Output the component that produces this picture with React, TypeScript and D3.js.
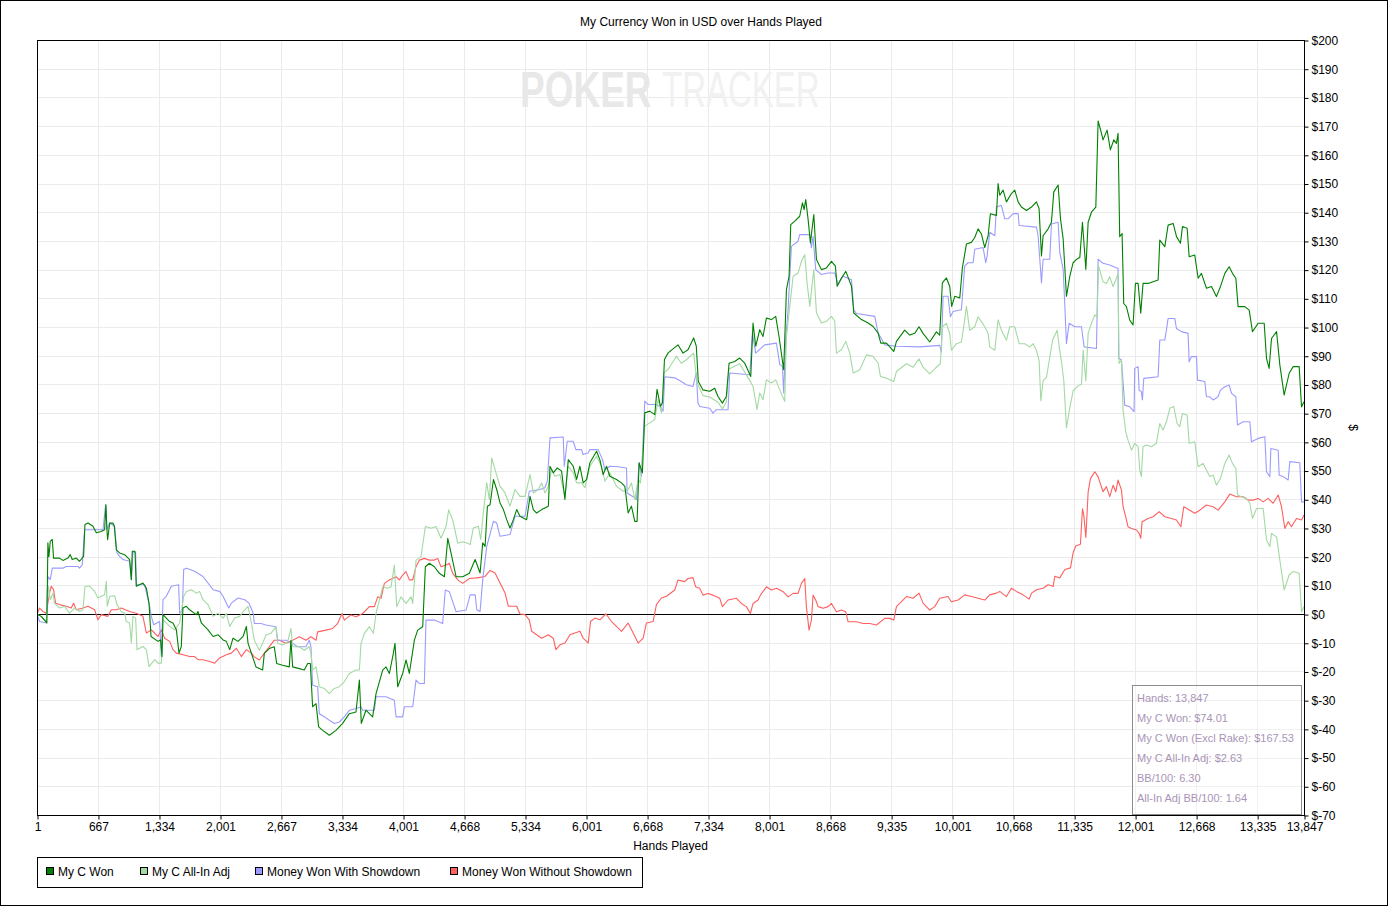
import { useRef, useEffect } from 'react';
import * as d3 from 'd3';

// hands played on the x axis, dollars on the right y axis
const handTicks = [1, 667, 1334, 2001, 2667, 3334, 4001, 4668, 5334, 6001, 6668, 7334, 8001, 8668, 9335, 10001, 10668, 11335, 12001, 12668, 13335, 13847];
const dollarTicks = [-70, -60, -50, -40, -30, -20, -10, 0, 10, 20, 30, 40, 50, 60, 70, 80, 90, 100, 110, 120, 130, 140, 150, 160, 170, 180, 190, 200];

const seriesNames = ['My C Won', 'My C All-In Adj', 'Money Won With Showdown', 'Money Won Without Showdown'];

const statLines = [
    'Hands: 13,847',
    'My C Won: $74.01',
    'My C Won (Excl Rake): $167.53',
    'My C All-In Adj: $2.63',
    'BB/100: 6.30',
    'All-In Adj BB/100: 1.64',
];

// [hand, dollars]
const myCWon: [number, number][] = [
    [1, 0], [47, -0.8], [109, -3.1], [120, 24.8], [131, 20], [146, 25.3], [168, 26], [182, 19.5], [248, 19.5], [284, 18.7], [339, 19.5], [364, 20.7], [386, 19], [430, 19.5], [466, 18.4], [510, 20.1],
    [525, 31.2], [558, 31.7], [612, 30.6], [649, 28.3], [703, 28.8], [740, 29.4], [754, 38.1], [765, 29.4], [773, 25.9], [795, 31.7], [831, 31.7], [846, 30.6], [868, 22.4], [904, 21.3], [959, 20.7], [1013, 19],
    [1032, 12], [1042, 21.9], [1072, 21.9], [1086, 9.7], [1159, 10.8], [1196, 9.1], [1225, 3.8], [1247, -7.8], [1323, -9.5], [1352, -9], [1367, -14.8], [1378, -0.2], [1414, -1.4], [1451, -2.6], [1487, -3.1],
    [1524, -5.5], [1553, -13.6], [1578, -11.3], [1596, 2.1], [1633, 2.7], [1669, 1.5], [1742, -0.2], [1760, 0.9], [1797, -3.1], [1833, -4.3], [1870, -5.5], [1925, -7.8], [1979, -7.2], [2034, -9], [2070, -9.5],
    [2107, -12.4], [2143, -8.4], [2198, -9.5], [2253, -7.8], [2289, -4.3], [2307, -10.1], [2357, -14.9], [2394, -18.4], [2467, -19.5], [2485, -13.7], [2539, -12], [2594, -11.4], [2620, -17.2], [2685, -17.8],
    [2758, -18.4], [2776, -9.1], [2795, -18.4], [2867, -19], [2922, -19.5], [2959, -17.2], [2988, -17.2], [3013, -32.3], [3050, -31.2], [3079, -39.3], [3123, -40.5], [3196, -42.2], [3268, -40.5], [3341, -38.1],
    [3414, -34.7], [3487, -34.1], [3524, -23], [3545, -38.1], [3596, -33.5], [3669, -35.8], [3706, -27.7], [3779, -19.5], [3815, -18.4], [3852, -20.7], [3895, -13.7], [3913, -10.2], [3943, -25.3], [3997, -20.7],
    [4034, -16], [4070, -20.7], [4125, -9.1], [4161, -5.6], [4216, -4.4], [4245, 16.5], [4289, 17.7], [4344, 16.5], [4398, 14.2], [4453, 13], [4490, 26.4], [4526, 21.2], [4581, 13], [4653, 13], [4726, 14.2],
    [4789, 19], [4843, 14.3], [4872, 24.8], [4898, 23.6], [4923, 37.6], [4952, 38.1], [4989, 46.9], [5025, 43.4], [5061, 38.7], [5098, 36.4], [5134, 32.9], [5170, 30], [5207, 32.9], [5243, 36.4], [5279, 34.1],
    [5352, 32.9], [5389, 41], [5425, 36.4], [5461, 35.2], [5516, 36.4], [5589, 37.6], [5607, 51.5], [5643, 49.2], [5687, 50.9], [5734, 49.8], [5770, 39.9], [5807, 53.8], [5861, 51.5], [5898, 46.9], [5934, 51.5],
    [5970, 45.7], [6007, 46.9], [6043, 52.7], [6116, 56.7], [6152, 53.8], [6188, 48.6], [6225, 51.5], [6261, 48], [6334, 46.9], [6388, 45.7], [6425, 44.5], [6443, 39.9], [6461, 35.2], [6497, 37.6], [6534, 32.3],
    [6559, 32.3], [6581, 52.7], [6617, 49.2], [6643, 70.1], [6698, 70.7], [6752, 69.5], [6777, 78.3], [6814, 72.4], [6836, 73.6], [6858, 88.7], [6898, 91], [7006, 93.8], [7061, 90.9], [7115, 92.1], [7177, 96.2],
    [7206, 93.3], [7228, 81], [7279, 78.1], [7352, 77.6], [7407, 78.7], [7443, 75.8], [7491, 73.5], [7534, 75.8], [7564, 87.4], [7626, 88], [7680, 89.2], [7735, 87.4], [7801, 82.8], [7826, 101.4], [7855, 93.3],
    [7899, 99.1], [7935, 96.7], [7972, 103.1], [8027, 102.6], [8074, 103.7], [8110, 96.7], [8161, 85.1], [8191, 113], [8220, 117.7], [8238, 135.7], [8282, 136.9], [8336, 138.6], [8366, 143.3], [8384, 140.9],
    [8402, 144.4], [8428, 137.4], [8453, 129.3], [8490, 139.2], [8519, 123.5], [8573, 120], [8628, 120.6], [8683, 122.9], [8726, 121.2], [8745, 114.2], [8792, 117.1], [8840, 119.4], [8902, 114.2], [8927, 104.9],
    [9011, 102.6], [9084, 101.4], [9138, 100.2], [9193, 97.9], [9222, 94.4], [9284, 94.4], [9364, 91.5], [9393, 95], [9483, 98.9], [9538, 97.2], [9593, 97.8], [9640, 100.1], [9684, 97.8], [9757, 94.8],
    [9830, 98.3], [9866, 97.2], [9895, 115.4], [9939, 117.1], [9975, 114.2], [9997, 107.2], [10030, 110.7], [10085, 110.1], [10114, 120.7], [10158, 128.9], [10212, 129.5], [10249, 131.2], [10285, 134.2],
    [10322, 132.4], [10358, 127.7], [10395, 131.8], [10420, 139.5], [10486, 138.9], [10504, 150], [10522, 145.9], [10559, 147.7], [10595, 143.6], [10650, 146.5], [10686, 147.7], [10723, 143.6], [10759, 141.8],
    [10814, 140.6], [10869, 141.8], [10923, 143.6], [10952, 141.2], [10978, 124.8], [10996, 131.8], [11051, 134.2], [11087, 136.5], [11113, 147.1], [11160, 149.5], [11186, 137.7], [11215, 130.7], [11251, 110.7],
    [11288, 117.7], [11324, 122.4], [11361, 123.6], [11397, 124.2], [11426, 136.5], [11463, 120.1], [11488, 136.5], [11524, 140], [11572, 141.8], [11597, 171.8], [11627, 168.3], [11651, 165.2], [11695, 168.6],
    [11731, 161.7], [11768, 165.2], [11797, 164], [11815, 167.5], [11833, 131.5], [11859, 132.6], [11877, 108.2], [11906, 107.1], [11943, 102.4], [11979, 100.7], [12005, 115.2], [12034, 115.2], [12063, 104.8],
    [12088, 115.2], [12143, 115.2], [12198, 115.8], [12253, 116.4], [12271, 130.3], [12326, 128], [12362, 135.5], [12417, 136.1], [12454, 131.5], [12497, 129.2], [12519, 135], [12570, 134.4], [12592, 124.5],
    [12653, 125.1], [12690, 117], [12726, 118.7], [12781, 113.5], [12836, 114.1], [12890, 110.6], [12934, 114.1], [12982, 118.7], [13029, 121], [13065, 118.7], [13102, 117], [13127, 107.1], [13200, 107.1],
    [13248, 105.9], [13284, 98.4], [13346, 101.3], [13412, 101.3], [13437, 89.1], [13466, 85.6], [13492, 96], [13547, 98.4], [13583, 86.8], [13630, 76.3], [13685, 83.9], [13729, 86.2], [13794, 86.2], [13820, 72.2],
    [13847, 74],
];

const allInAdj: [number, number][] = [
    [1, 0], [47, -0.8], [102, -2.6], [127, 9.7], [146, 5], [175, 7.3], [193, 3.8], [248, 2.1], [303, 2.7], [357, 0.3], [412, 2.1], [466, 0.9], [503, 1.5], [525, 9.7], [576, 9.7], [631, 7.9], [667, 5.6],
    [703, 6.2], [740, 6.7], [758, 11.4], [769, 2.7], [795, 6.2], [849, 6.4], [875, 3.3], [922, 0.9], [959, 0.3], [977, -2.6], [1013, -3.1], [1032, -10.1], [1050, -0.8], [1079, -1.4], [1094, -12.4], [1159, -11.3],
    [1196, -12.4], [1225, -18.3], [1287, -15.9], [1323, -17.1], [1360, -17.1], [1378, -2], [1414, -3.1], [1451, -4.3], [1505, -5.5], [1560, -3.1], [1604, 6.2], [1633, 7.9], [1687, 8.5], [1742, 7.3], [1778, 7.9],
    [1815, 5], [1870, 3.3], [1925, -0.8], [1979, 0.3], [2034, -1.4], [2070, 0.3], [2107, -4.3], [2161, -1.4], [2216, -0.8], [2271, 1.5], [2307, 2.7], [2344, -3.1], [2376, -9.1], [2430, -12.6], [2467, -10.2],
    [2503, -7.3], [2558, -6.7], [2612, -4.4], [2631, -10.2], [2685, -10.8], [2740, -9.7], [2776, -5], [2795, -11.4], [2867, -11.4], [2922, -12.6], [2977, -11.4], [2995, -13.7], [3013, -19.5], [3050, -18.4],
    [3086, -25.3], [3141, -25.9], [3196, -27.7], [3250, -25.9], [3305, -25.3], [3359, -23.6], [3414, -20.7], [3487, -19.5], [3524, -19.5], [3542, -10.2], [3578, -6.7], [3633, -4.4], [3677, -6.7], [3706, 0.2],
    [3742, 4.9], [3779, 9.5], [3834, 9], [3870, 9.5], [3906, 17.1], [3932, 2.6], [3979, 6], [4034, 3.7], [4089, 6], [4107, 3.7], [4143, 18.8], [4198, 20], [4245, 30.5], [4307, 29.9], [4362, 30.5], [4416, 26.4],
    [4471, 30.5], [4500, 36.3], [4544, 32.8], [4599, 24.7], [4653, 25.2], [4708, 24.7], [4734, 24.2], [4770, 30], [4825, 30.6], [4850, 25.9], [4880, 35.8], [4916, 45.7], [4945, 39.9], [4970, 54.4], [5007, 50.3],
    [5061, 44.5], [5116, 42.2], [5170, 37.6], [5225, 43.4], [5279, 41], [5334, 41], [5389, 48.6], [5425, 42.2], [5479, 43.4], [5516, 45.7], [5552, 42.2], [5589, 44.5], [5625, 50.3], [5661, 48], [5716, 48.6],
    [5770, 41], [5807, 51.5], [5861, 49.2], [5898, 45.7], [5952, 45.7], [5989, 44], [6043, 51.5], [6116, 55], [6170, 51.5], [6207, 46.3], [6261, 49.2], [6334, 44.5], [6407, 42.8], [6461, 43.4], [6497, 45.7],
    [6534, 39.9], [6570, 46.9], [6596, 45.7], [6643, 65.5], [6698, 66.6], [6752, 67.8], [6789, 74.8], [6825, 70.1], [6854, 84.1], [6898, 85.2], [6988, 89.8], [7042, 87.4], [7097, 88.6], [7177, 90.9], [7213, 80.8],
    [7279, 76.1], [7352, 75.6], [7443, 73.8], [7491, 71.5], [7534, 73.8], [7564, 85.4], [7680, 87.2], [7801, 80.8], [7826, 79.3], [7870, 71.2], [7899, 77], [7935, 74.7], [7972, 81.6], [8027, 80.5], [8074, 81.6],
    [8118, 78.1], [8172, 74.1], [8191, 96.7], [8227, 107.2], [8264, 117.7], [8318, 118.8], [8355, 122.9], [8391, 125.2], [8417, 115.3], [8446, 107.2], [8490, 120], [8519, 104.9], [8573, 101.4], [8628, 102],
    [8683, 103.7], [8719, 102], [8737, 90.9], [8792, 92.1], [8840, 95], [8883, 90.9], [8920, 84], [8993, 85.1], [9065, 90.3], [9138, 89.8], [9193, 87.4], [9218, 82.8], [9284, 82.2], [9364, 81], [9393, 84.5],
    [9502, 87.2], [9575, 86], [9640, 88.9], [9684, 86], [9757, 83.7], [9830, 86], [9873, 87.2], [9895, 100.1], [9939, 101.3], [9975, 97.8], [9994, 91.9], [10048, 94.2], [10103, 94.8], [10139, 102.5], [10158, 107.2],
    [10194, 98.9], [10249, 100.1], [10285, 103.6], [10322, 101.9], [10358, 100.1], [10395, 97.8], [10413, 93.1], [10468, 91.9], [10504, 102.5], [10540, 98.9], [10595, 95.4], [10631, 100.1], [10686, 100.1],
    [10734, 94.2], [10796, 94.2], [10850, 93.1], [10887, 94.2], [10923, 91.9], [10952, 88.4], [10971, 74.3], [10996, 81.3], [11033, 82.5], [11069, 89.5], [11099, 95.4], [11150, 98.9], [11172, 93.1], [11197, 87.8],
    [11222, 81.3], [11251, 64.9], [11288, 71.9], [11324, 77.8], [11379, 79.5], [11415, 80.1], [11433, 91.9], [11463, 81.3], [11488, 97.8], [11524, 101.3], [11561, 104.2], [11586, 103.6], [11601, 121.3],
    [11651, 115.8], [11688, 115.2], [11724, 117.5], [11761, 114.1], [11790, 116.4], [11815, 118.7], [11826, 87.3], [11852, 88.5], [11870, 71.1], [11899, 63.5], [11924, 60.6], [11961, 57.1], [11997, 59.5],
    [12034, 58.3], [12052, 50.2], [12070, 47.9], [12088, 58.3], [12125, 58.9], [12180, 58.3], [12234, 59.5], [12271, 66.4], [12307, 64.1], [12344, 67], [12380, 71.7], [12424, 72.3], [12460, 66.4], [12489, 65.3],
    [12519, 69.9], [12570, 69.3], [12592, 59.5], [12653, 60], [12690, 51.3], [12744, 52.5], [12781, 50.2], [12817, 47.9], [12854, 48.4], [12890, 44.9], [12934, 47.3], [12982, 52.5], [13029, 55.4], [13065, 52.5],
    [13102, 50.8], [13120, 41.5], [13164, 40.9], [13219, 40.3], [13255, 38.6], [13284, 33.3], [13328, 36.8], [13401, 36.8], [13437, 25.8], [13474, 23.5], [13492, 28.1], [13547, 26.9], [13583, 18.8], [13630, 8.4],
    [13685, 13.6], [13729, 14.8], [13794, 14.2], [13820, 0.8], [13847, 2.6],
];

const withShowdown: [number, number][] = [
    [1, 0], [29, -2.6], [102, -3.1], [120, 13.1], [146, 12], [168, 16], [284, 16], [321, 16.6], [448, 16.6], [466, 16], [496, 17.2], [521, 29.4], [722, 29.4], [751, 38.1], [765, 29.4], [795, 31.7], [849, 30.6],
    [875, 21.3], [904, 20.1], [940, 19], [1013, 18.4], [1032, 12], [1050, 21.9], [1079, 21.3], [1086, 10.2], [1177, 10.2], [1232, 2.7], [1250, -0.8], [1276, -3.7], [1341, -2.6], [1360, -14.8], [1378, 5],
    [1414, 6.2], [1469, 9.7], [1549, 10.2], [1560, 0.3], [1589, 1.5], [1604, 15.5], [1633, 16], [1724, 14.9], [1815, 13.1], [1925, 8.5], [1997, 7.9], [2034, 6.2], [2096, 2.1], [2125, 3.8], [2198, 5.6], [2271, 5],
    [2318, 3.8], [2365, 0.2], [2376, -3.3], [2449, -3.3], [2503, -3.8], [2612, -4.4], [2631, -9.1], [2722, -9.1], [2758, -9.7], [2795, -10.2], [2849, -11.4], [2940, -11.4], [2977, -9.1], [2995, -11.4], [3013, -24.8],
    [3068, -25.3], [3086, -34.7], [3141, -35.8], [3196, -37], [3250, -38.1], [3305, -37.6], [3359, -35.8], [3414, -33.5], [3487, -32.9], [3542, -32.3], [3560, -33.5], [3688, -33.5], [3706, -28.8], [3815, -28.8],
    [3906, -30], [3925, -35.8], [3997, -35.8], [4016, -32.3], [4107, -32.3], [4143, -23], [4180, -24.2], [4234, -24.2], [4252, -2.1], [4344, -2.1], [4434, -3.3], [4463, 8.4], [4507, 7.8], [4581, 0.8], [4690, 1.4],
    [4734, 6.7], [4790, 6.7], [4807, 1.5], [4843, 0.9], [4872, 12], [4916, 23.6], [4989, 32.3], [5025, 31.7], [5061, 27.1], [5170, 27.7], [5225, 34.1], [5334, 34.1], [5381, 42.8], [5498, 43.4], [5552, 44],
    [5578, 46.3], [5607, 61.4], [5752, 61.7], [5763, 51.5], [5796, 60.2], [5861, 60.2], [5890, 57.3], [5952, 57.3], [5970, 55.6], [6025, 56.2], [6043, 57.3], [6134, 57.3], [6181, 53.8], [6207, 50.3], [6261, 51.5],
    [6352, 51.3], [6443, 50.9], [6450, 42.2], [6479, 41.6], [6534, 40.5], [6552, 39.9], [6581, 52.7], [6607, 48], [6643, 74.2], [6680, 73], [6752, 73], [6807, 72.4], [6843, 70.7], [6861, 82.7], [6970, 82.3],
    [7042, 81], [7097, 79.9], [7170, 79.3], [7206, 84], [7224, 73.5], [7243, 72.3], [7352, 71.7], [7389, 70], [7425, 71.2], [7553, 71.2], [7571, 84], [7790, 83.4], [7819, 97.9], [7855, 90.9], [7954, 93.8],
    [8082, 94.4], [8118, 86.9], [8147, 86.3], [8161, 77], [8183, 95.6], [8209, 106], [8245, 128.1], [8318, 129.9], [8336, 132.2], [8446, 132.2], [8464, 127.6], [8482, 131.6], [8511, 120], [8573, 118.3],
    [8646, 118.8], [8719, 118.8], [8755, 114.8], [8810, 117.7], [8902, 116.5], [8927, 106], [8956, 104.7], [9156, 103.7], [9193, 97.9], [9266, 93.8], [9393, 93.3], [9648, 93.1], [9866, 93.6], [9884, 91.3],
    [9903, 110.7], [9957, 110.7], [9983, 103.6], [10012, 105.4], [10103, 106], [10139, 121.3], [10176, 122.4], [10231, 122.4], [10249, 127.1], [10340, 127.7], [10369, 122.4], [10384, 124.8], [10413, 133],
    [10468, 131.8], [10486, 141.8], [10540, 142.4], [10577, 137.7], [10613, 137.7], [10668, 139.5], [10723, 139.5], [10734, 135.4], [10923, 134.8], [10941, 131.8], [10960, 123.6], [10978, 115.4], [10996, 123.6],
    [11069, 123.6], [11087, 135.9], [11160, 136.5], [11178, 126], [11215, 120.1], [11233, 107.7], [11251, 94.2], [11280, 101.3], [11342, 100.1], [11415, 100.1], [11444, 93.1], [11579, 92.5], [11597, 123.6],
    [11651, 122.2], [11724, 121.6], [11815, 120.4], [11822, 89.1], [11852, 88.5], [11888, 72.8], [11943, 72.2], [11990, 70.5], [11997, 85.6], [12034, 86.2], [12045, 78], [12070, 77.5], [12081, 74.6], [12096, 82.1],
    [12253, 82.7], [12271, 95.5], [12326, 95.5], [12344, 99], [12362, 103], [12435, 103], [12453, 99.5], [12508, 98.4], [12580, 97.8], [12592, 87.9], [12617, 89.7], [12672, 89.7], [12683, 81.5], [12763, 81],
    [12781, 75.7], [12817, 75.7], [12854, 74.6], [12908, 75.7], [12934, 78], [12982, 79.2], [13029, 79.8], [13055, 76.9], [13102, 75.7], [13120, 65.9], [13182, 67], [13255, 67], [13273, 60], [13346, 61.2],
    [13419, 61.8], [13437, 49.6], [13474, 47.9], [13485, 57.7], [13565, 57.1], [13576, 48.4], [13620, 47.9], [13674, 46.7], [13692, 53.1], [13801, 52.7], [13820, 39.1], [13847, 39.1],
];

const withoutShowdown: [number, number][] = [
    [1, 0], [29, 2.1], [65, 0.9], [102, 0.3], [138, 7.3], [157, 9.7], [182, 8.5], [204, 3.8], [248, 3.3], [321, 2.7], [375, 2.1], [401, 3.8], [430, 1.5], [503, 2.1], [558, 2.7], [631, 1.5], [667, -2], [703, -0.2],
    [776, -0.8], [813, 1.5], [868, 1.5], [922, 2.1], [1013, 0.9], [1086, 0.3], [1159, -0.8], [1196, -6.6], [1250, -5.5], [1287, -6.6], [1323, -7.8], [1360, -5.5], [1396, -8.4], [1451, -9.5], [1487, -12.4],
    [1524, -13.6], [1596, -14.2], [1669, -14.8], [1724, -14.8], [1760, -15.9], [1815, -15.9], [1888, -16.5], [1943, -17.1], [1997, -15.3], [2070, -14.2], [2125, -13.6], [2180, -11.9], [2234, -14.8], [2289, -12.4],
    [2344, -13.6], [2376, -14.9], [2430, -16], [2485, -13.7], [2539, -11.4], [2594, -9.1], [2649, -9.1], [2722, -10.2], [2795, -9.1], [2867, -7.9], [2940, -9.1], [2995, -7.9], [3050, -9.1], [3068, -6.2],
    [3159, -5.6], [3232, -5], [3286, -3.3], [3334, 0.2], [3359, -2.1], [3432, -0.3], [3487, -0.9], [3560, 0.2], [3633, 2.6], [3688, 2.6], [3724, 6], [3761, 5.5], [3797, 10.7], [3852, 11.9], [3925, 13],
    [3961, 11.9], [3997, 13.6], [4034, 14.8], [4070, 11.9], [4107, 11.9], [4143, 16.5], [4180, 18.8], [4234, 19.4], [4289, 18.8], [4344, 18.8], [4380, 19.4], [4416, 16.5], [4471, 17.1], [4507, 17.7], [4544, 14.2],
    [4599, 11.9], [4653, 10.7], [4726, 12.4], [4807, 12.6], [4898, 13.1], [4952, 15.2], [5007, 14.3], [5061, 10.8], [5116, 7.3], [5152, 2.7], [5243, 2.7], [5279, 0], [5334, -0.2], [5381, -2], [5407, -6],
    [5461, -7.2], [5516, -8.4], [5589, -7.2], [5643, -8.4], [5672, -12.4], [5716, -10.7], [5770, -10.1], [5825, -7.2], [5879, -6.6], [5934, -6], [5970, -8.4], [6025, -10.1], [6050, -2.6], [6098, -1.4], [6152, -2],
    [6218, 0.1], [6279, -2.6], [6334, -4.3], [6388, -6], [6461, -3.1], [6516, -6.6], [6570, -10.1], [6625, -8.4], [6661, -3.1], [6734, -2.6], [6770, 3.3], [6825, 5.6], [6880, 6.2], [6970, 8.4], [7006, 11.9],
    [7079, 11.3], [7115, 12.4], [7170, 12.7], [7199, 9.5], [7243, 9], [7279, 6.6], [7334, 7.2], [7389, 6.6], [7462, 5.5], [7491, 2.6], [7553, 4.9], [7644, 5.5], [7699, 3.7], [7753, 2.6], [7797, 0.2], [7826, 3.7],
    [7881, 4.9], [7907, 6.6], [7972, 9.5], [8027, 8.4], [8082, 9], [8155, 7.8], [8209, 6], [8264, 7.2], [8318, 7.2], [8355, 10.7], [8391, 12.4], [8409, 2.6], [8438, -5.6], [8464, -2.1], [8482, 6.6], [8511, 4.9],
    [8537, 2.6], [8592, 2], [8646, 2.6], [8683, 3.7], [8737, 0.8], [8792, 1.4], [8840, 0.8], [8865, -2.7], [8956, -2.7], [9029, -3.3], [9102, -3.3], [9175, -3.8], [9266, -1.5], [9320, -1.5], [9364, -2.1],
    [9393, 2.6], [9502, 6.1], [9575, 5.5], [9640, 7.3], [9684, 3.8], [9757, 1.4], [9812, 2.6], [9866, 5.5], [9957, 6.1], [9994, 4.3], [10067, 4.9], [10139, 6.7], [10212, 6.1], [10285, 5.5], [10358, 4.9],
    [10413, 6.7], [10486, 7.3], [10522, 7.9], [10595, 6.1], [10650, 9], [10704, 7.9], [10777, 6.7], [10843, 5.2], [10869, 7.3], [10923, 8.5], [10996, 9], [11051, 10.2], [11106, 9.6], [11124, 13.2], [11178, 12.6],
    [11233, 15.5], [11295, 16.1], [11324, 21.4], [11353, 23.7], [11404, 24.3], [11426, 36.7], [11441, 34.3], [11463, 26.7], [11488, 42.5], [11513, 47.2], [11561, 49.6], [11597, 47.8], [11651, 42.6], [11688, 44.4],
    [11724, 40.9], [11761, 44.9], [11790, 42.6], [11815, 46.7], [11852, 43.2], [11870, 37.4], [11899, 33.9], [11924, 30.4], [11961, 29.8], [12016, 29.3], [12045, 28.1], [12063, 26.4], [12078, 32.2], [12143, 33.3],
    [12198, 33.9], [12264, 35.7], [12326, 33.9], [12398, 33.3], [12453, 32.8], [12501, 30.4], [12533, 37.4], [12599, 36.2], [12653, 35.1], [12708, 36.2], [12781, 38], [12854, 37.4], [12908, 36.2], [12982, 39.1],
    [13036, 41.8], [13109, 40.9], [13182, 40.9], [13237, 39.7], [13291, 39.7], [13346, 40.3], [13401, 39.1], [13455, 40.3], [13510, 38.6], [13565, 41.5], [13601, 37.4], [13638, 29.8], [13674, 32.2], [13710, 30.4],
    [13765, 33.3], [13820, 32.8], [13847, 34.5],
];

const W = 1388;
const H = 906;
const plot = { left: 37, right: 1304, top: 40, bottom: 815 };
const font = "'Liberation Sans', Arial, sans-serif";

const colors = ['#008000', '#a3d9a3', '#9b9bff', '#ff5f5f'];
const legendX = [46, 140, 255, 450];

const App = () => {
    const ref = useRef<SVGSVGElement>(null);

    useEffect(() => {
        const svg = d3.select(ref.current);
        svg.selectAll('*').remove();

        const x = d3.scaleLinear().domain([1, 13847]).range([plot.left, plot.right]);
        const y = d3.scaleLinear().domain([-70, 200]).range([plot.bottom, plot.top]);

        svg.append('rect')
            .attr('x', 0.5).attr('y', 0.5).attr('width', W - 1).attr('height', H - 1)
            .attr('fill', '#fff').attr('stroke', '#000');

        // title
        svg.append('text')
            .attr('x', 701).attr('y', 26)
            .attr('text-anchor', 'middle')
            .style('font', `12px ${font}`)
            .text('My Currency Won in USD over Hands Played');

        // grid
        const grid = svg.append('g').attr('stroke', '#ebebeb').attr('stroke-width', 1);
        grid.selectAll('.hg').data(dollarTicks).enter().append('line')
            .attr('x1', plot.left).attr('x2', plot.right)
            .attr('y1', (d) => Math.round(y(d)) + 0.5).attr('y2', (d) => Math.round(y(d)) + 0.5);
        grid.selectAll('.vg').data(handTicks).enter().append('line')
            .attr('y1', plot.top).attr('y2', plot.bottom)
            .attr('x1', (d) => Math.round(x(d)) + 0.5).attr('x2', (d) => Math.round(x(d)) + 0.5);

        // watermark: narrow fonts stretched upward so the two words sit side by side
        svg.append('text')
            .attr('transform', 'translate(520, 107) scale(1, 1.33)')
            .style('font', `bold 37px ${font}`)
            .attr('fill', '#e8e8e8')
            .text('POKER');
        svg.append('text')
            .attr('transform', 'translate(662, 107) scale(1, 1.5)')
            .style('font', `33px ${font}`)
            .attr('fill', '#f1f1f1')
            .text('TRACKER');

        // zero line
        svg.append('line')
            .attr('x1', plot.left).attr('x2', plot.right)
            .attr('y1', Math.round(y(0)) + 0.5).attr('y2', Math.round(y(0)) + 0.5)
            .attr('stroke', '#000');

        // lines
        svg.append('clipPath').attr('id', 'plot-clip').append('rect')
            .attr('x', plot.left).attr('y', plot.top)
            .attr('width', plot.right - plot.left).attr('height', plot.bottom - plot.top);

        const line = d3.line<[number, number]>()
            .x((d) => x(d[0]))
            .y((d) => y(d[1]));

        const series = [myCWon, allInAdj, withShowdown, withoutShowdown];
        const order = [3, 2, 1, 0];
        const lines = svg.append('g').attr('clip-path', 'url(#plot-clip)');
        order.forEach((i) => {
            lines.append('path')
                .attr('d', line(series[i]))
                .attr('fill', 'none')
                .attr('stroke', colors[i])
                .attr('stroke-width', 1.1)
                .attr('stroke-linejoin', 'round');
        });

        // stats box
        svg.append('rect')
            .attr('x', 1132.5).attr('y', 685.5).attr('width', 169).attr('height', 129)
            .attr('fill', '#fff').attr('fill-opacity', 0.3)
            .attr('stroke', '#8c8c8c');
        svg.append('g').selectAll('text').data(statLines).enter().append('text')
            .attr('x', 1137).attr('y', (_d, i) => 702 + i * 20)
            .attr('fill', '#a994b6')
            .style('font', `11px ${font}`)
            .text((d) => d);

        // plot border
        svg.append('rect')
            .attr('x', plot.left + 0.5).attr('y', plot.top + 0.5)
            .attr('width', plot.right - plot.left).attr('height', plot.bottom - plot.top)
            .attr('fill', 'none').attr('stroke', '#000');

        // axes
        const yAxis = svg.append('g')
            .attr('transform', `translate(${plot.right + 0.5}, 0.5)`)
            .call(d3.axisRight(y).tickValues(dollarTicks).tickSize(4).tickPadding(3).tickFormat((d) => `$${d}`));
        const xAxis = svg.append('g')
            .attr('transform', `translate(0.5, ${plot.bottom + 0.5})`)
            .call(d3.axisBottom(x).tickValues(handTicks).tickSize(4).tickPadding(3).tickFormat((d) => d3.format(',')(d as number)));
        [yAxis, xAxis].forEach((a) => {
            a.select('.domain').remove();
            a.selectAll('text').style('font', `12px ${font}`).attr('fill', '#000');
            a.selectAll('line').attr('stroke', '#000');
        });

        svg.append('text')
            .attr('x', (plot.left + plot.right) / 2).attr('y', 850)
            .attr('text-anchor', 'middle')
            .style('font', `12px ${font}`)
            .text('Hands Played');

        svg.append('text')
            .attr('transform', `translate(1349, ${(plot.top + plot.bottom) / 2}) rotate(90)`)
            .attr('text-anchor', 'middle')
            .style('font', `12px ${font}`)
            .text('$');

        // legend
        svg.append('rect')
            .attr('x', 37.5).attr('y', 857.5).attr('width', 605).attr('height', 30)
            .attr('fill', '#fff').attr('stroke', '#000');
        const items = svg.append('g').selectAll('g').data(seriesNames).enter().append('g')
            .attr('transform', (_d, i) => `translate(${legendX[i]}, 867)`);
        items.append('rect')
            .attr('x', 0.5).attr('y', 0.5).attr('width', 7).attr('height', 7)
            .attr('fill', (_d, i) => colors[i]).attr('stroke', '#000');
        items.append('text')
            .attr('x', 12).attr('y', 8.5)
            .style('font', `12px ${font}`)
            .text((d) => d);
    }, []);

    return (
        <svg ref={ref} width={W} height={H} style={{ position: 'absolute', left: 0, top: 0 }}></svg>
    );
};

export default App;
